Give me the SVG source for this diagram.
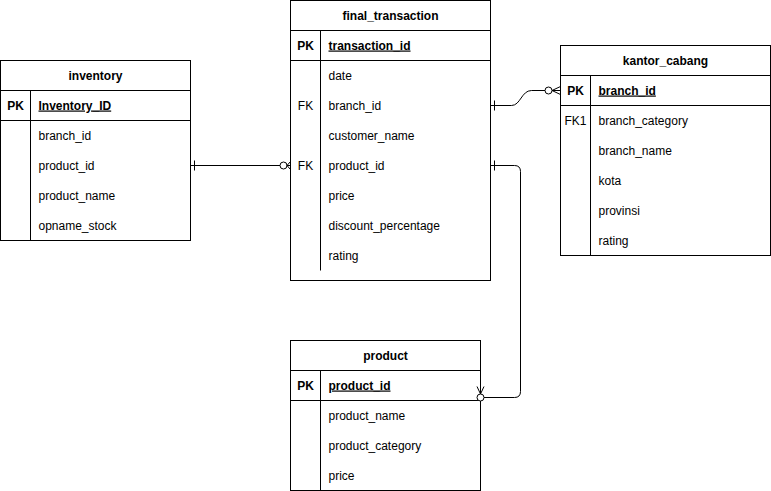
<svg xmlns="http://www.w3.org/2000/svg" width="771" height="491" viewBox="0 0 771 491">
<style>
.box{fill:#fff;stroke:#000;stroke-width:1}
.ln{stroke:#000;stroke-width:1;fill:none}
text{font-family:"Liberation Sans",Arial,Helvetica,sans-serif;font-size:12px;fill:#000}
.t{font-weight:bold;text-anchor:middle}
.pk{font-weight:bold;text-anchor:middle}
.k{text-anchor:middle}
.pkn{font-weight:bold;text-decoration:underline}
</style>
<rect width="771" height="491" fill="#fff"/>
<g transform="translate(0.5,0.5)">
<g id="inventory">
<rect class="box" x="0" y="60" width="190" height="180"/>
<path class="ln" d="M0,90H190M0,120H190M30,90V240"/>
<text class="t" x="95" y="79">inventory</text>
<text class="pk" x="15" y="109">PK</text>
<text class="pkn" x="38" y="109">Inventory_ID</text>
<text x="38" y="139">branch_id</text>
<text x="38" y="169">product_id</text>
<text x="38" y="199">product_name</text>
<text x="38" y="229">opname_stock</text>
</g>
<g id="final_transaction">
<rect class="box" x="290" y="0" width="200" height="280"/>
<path class="ln" d="M290,30H490M290,60H490M320,30V270"/>
<text class="t" x="390" y="19">final_transaction</text>
<text class="pk" x="305" y="49">PK</text>
<text class="pkn" x="328" y="49">transaction_id</text>
<text x="328" y="79">date</text>
<text class="k" x="305" y="109">FK</text>
<text x="328" y="109">branch_id</text>
<text x="328" y="139">customer_name</text>
<text class="k" x="305" y="169">FK</text>
<text x="328" y="169">product_id</text>
<text x="328" y="199">price</text>
<text x="328" y="229">discount_percentage</text>
<text x="328" y="259">rating</text>
</g>
<g id="kantor_cabang">
<rect class="box" x="560" y="45" width="210" height="210"/>
<path class="ln" d="M560,75H770M560,105H770M590,75V255"/>
<text class="t" x="665" y="64">kantor_cabang</text>
<text class="pk" x="575" y="94">PK</text>
<text class="pkn" x="598" y="94">branch_id</text>
<text class="k" x="575" y="124">FK1</text>
<text x="598" y="124">branch_category</text>
<text x="598" y="154">branch_name</text>
<text x="598" y="184">kota</text>
<text x="598" y="214">provinsi</text>
<text x="598" y="244">rating</text>
</g>
<g id="product">
<rect class="box" x="290" y="340" width="190" height="150"/>
<path class="ln" d="M290,370H480M290,400H480M320,370V490"/>
<text class="t" x="385" y="359">product</text>
<text class="pk" x="305" y="389">PK</text>
<text class="pkn" x="328" y="389">product_id</text>
<text x="328" y="419">product_name</text>
<text x="328" y="449">product_category</text>
<text x="328" y="479">price</text>
</g>
<g id="connectors" class="ln">
<path d="M190,165H279.5"/>
<path d="M194,160V170"/>
<circle cx="283" cy="165" r="3.5" fill="#fff"/>
<path d="M286.5,165L290,165M286.5,165L290,161M286.5,165L290,169"/>
<path d="M490,105H511C520,105 521,90 531,90H544.5"/>
<path d="M494,100V110"/>
<circle cx="548" cy="90" r="3.5" fill="#fff"/>
<path d="M551.5,90L560,90M551.5,90L560,86M551.5,90L560,94"/>
<path d="M490,165H514Q520,165 520,171V391Q520,397 514,397H483.5"/>
<path d="M494,160V170"/>
<circle cx="480" cy="397" r="3.5" fill="#fff"/>
<path d="M480,393.5L480,386M480,393.5L476.5,386M480,393.5L483.5,386"/>
</g>
</g>
</svg>
